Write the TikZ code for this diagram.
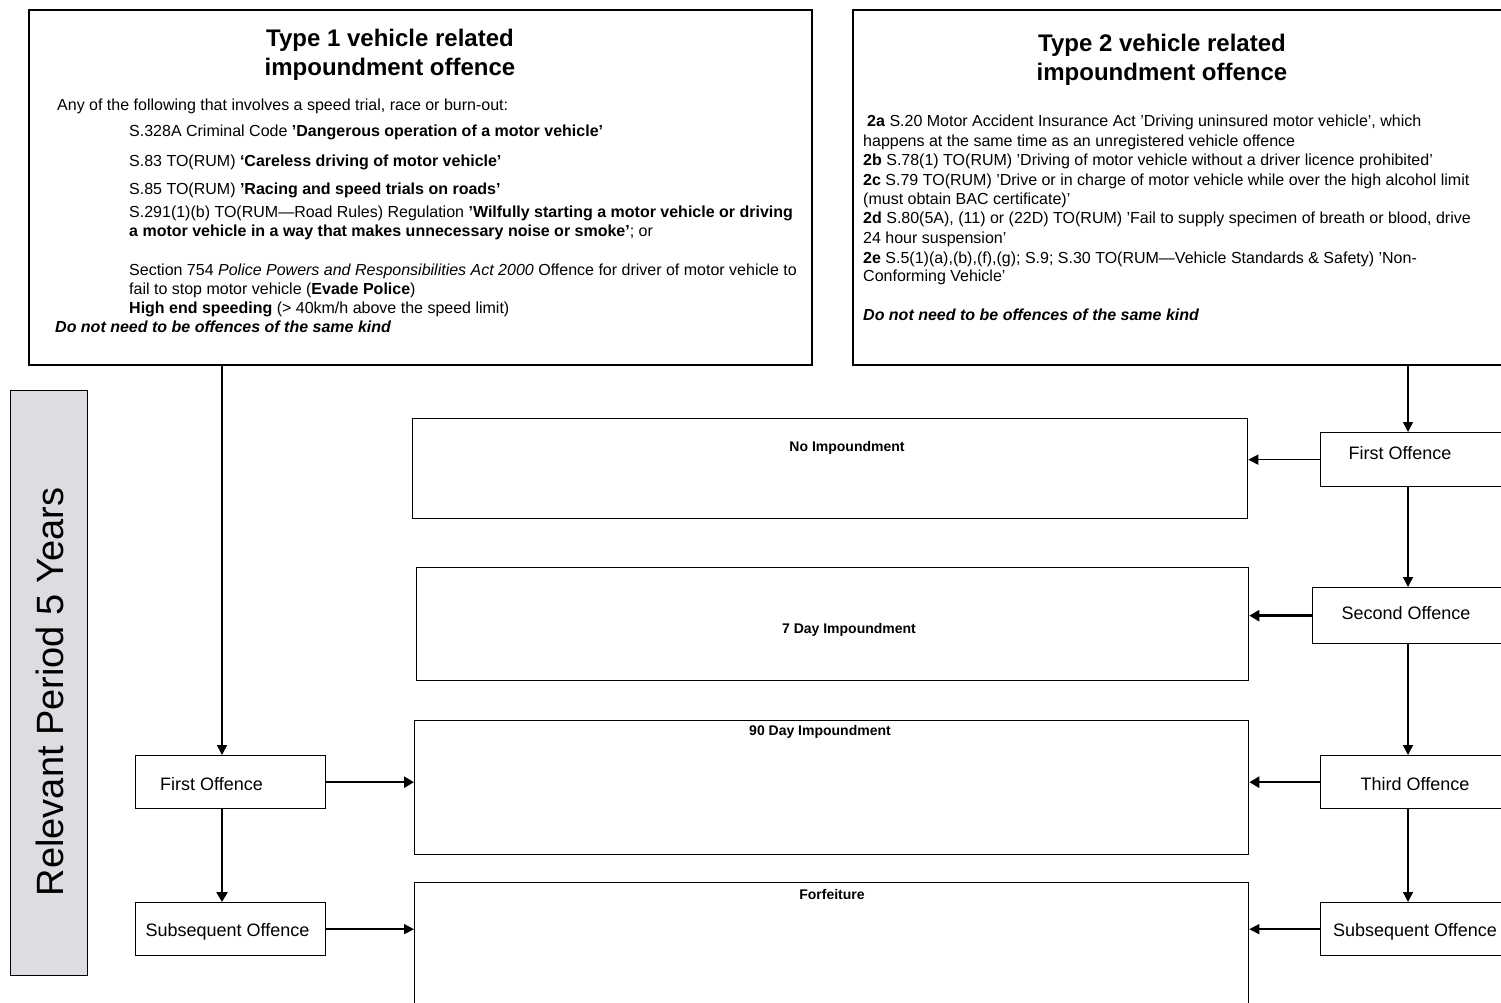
\documentclass[tikz,border=0pt]{standalone}
\usepackage{fontspec}
\setmainfont{Liberation Sans}
\usetikzlibrary{arrows.meta}
\definecolor{periodgray}{HTML}{DCDDE0}
\newcommand\bodyf{\fontsize{16}{19}\selectfont}
\begin{document}
\begin{tikzpicture}[x=1pt,y=-1pt,
  bigbox/.style={draw, line width=1.6pt, anchor=north west, inner sep=0pt},
  obox/.style={draw, line width=1.3pt, anchor=north west, inner sep=0pt},
  lbl/.style={font=\fontsize{18}{20}\selectfont, inner sep=0pt},
  imp/.style={font=\bfseries\fontsize{14}{16}\selectfont, inner sep=0pt},
  txt/.style={anchor=base west, inner sep=0pt, font=\bodyf},
  head/.style={align=center, font=\bfseries\fontsize{24}{29.5}\selectfont, inner sep=0pt},
  arr/.style={line width=1.5pt, -{Triangle[length=10pt,width=10pt]}},
  tarr/.style={line width=2.6pt, -{Triangle[length=10pt,width=11pt]}},
]
\clip (0,0) rectangle (1501,1002);
\fill[white] (0,0) rectangle (1501,1002);

% top boxes
\node[bigbox, minimum width=783pt, minimum height=355pt] (t1) at (28,9) {};
\node[bigbox, minimum width=700pt, minimum height=355pt] (t2) at (852,9) {};
\node[head] (t1h) at (390,55) {Type 1 vehicle related\\impoundment offence};
\node[head] (t2h) at (1162,60) {Type 2 vehicle related\\impoundment offence};

% type 1 text
\node[txt] (a1) at (57,110) {Any of the following that involves a speed trial, race or burn-out:};
\node[txt] (a2) at (129,136) {S.328A Criminal Code \textbf{'Dangerous operation of a motor vehicle'}};
\node[txt] (a3) at (129,166) {S.83 TO(RUM) \textbf{`Careless driving of motor vehicle'}};
\node[txt] (a4) at (129,194) {S.85 TO(RUM) \textbf{'Racing and speed trials on roads'}};
\node[txt] (a5) at (129,217) {S.291(1)(b) TO(RUM---Road Rules) Regulation \textbf{'Wilfully starting a motor vehicle or driving}};
\node[txt] (a6) at (129,236) {\textbf{a motor vehicle in a way that makes unnecessary noise or smoke'}; or};
\node[txt] (a7) at (129,275) {Section 754 \textit{Police Powers and Responsibilities Act 2000} Offence for driver of motor vehicle to};
\node[txt] (a8) at (129,294) {fail to stop motor vehicle (\textbf{Evade Police})};
\node[txt] (a9) at (129,313) {\textbf{High end speeding} ({>} 40km/h above the speed limit)};
\node[txt] (a10) at (55,332) {\textbf{\textit{Do not need to be offences of the same kind}}};

% type 2 text
\node[txt] (b1) at (867,126) {\textbf{2a} S.20 Motor Accident Insurance Act 'Driving uninsured motor vehicle', which};
\node[txt] (b2) at (863,146) {happens at the same time as an unregistered vehicle offence};
\node[txt] (b3) at (863,165) {\textbf{2b} S.78(1) TO(RUM) 'Driving of motor vehicle without a driver licence prohibited'};
\node[txt] (b4) at (863,185) {\textbf{2c} S.79 TO(RUM) 'Drive or in charge of motor vehicle while over the high alcohol limit};
\node[txt] (b5) at (863,204) {(must obtain BAC certificate)'};
\node[txt] (b6) at (863,223) {\textbf{2d} S.80(5A), (11) or (22D) TO(RUM) 'Fail to supply specimen of breath or blood, drive};
\node[txt] (b7) at (863,243) {24 hour suspension'};
\node[txt] (b8) at (863,263) {\textbf{2e} S.5(1)(a),(b),(f),(g); S.9; S.30 TO(RUM---Vehicle Standards \& Safety) 'Non-};
\node[txt] (b9) at (863,281) {Conforming Vehicle'};
\node[txt] (b10) at (863,320) {\textbf{\textit{Do not need to be offences of the same kind}}};

% period box
\node[obox, fill=periodgray, minimum width=77pt, minimum height=585pt] (per) at (10,390) {};
\node[font=\fontsize{38}{40}\selectfont, rotate=90, inner sep=0pt] (pert) at (50,692) {Relevant Period 5 Years};

% outcome boxes
\node[obox, minimum width=835pt, minimum height=100pt] (n0) at (412,418) {};
\node[obox, minimum width=832pt, minimum height=113pt] (n7) at (416,567) {};
\node[obox, minimum width=834pt, minimum height=134pt] (n90) at (414,720) {};
\node[obox, minimum width=834pt, minimum height=140pt] (nff) at (414,882) {};
\node[imp] (n0t) at (847,448) {No Impoundment};
\node[imp] (n7t) at (849,630) {7 Day Impoundment};
\node[imp] (n90t) at (820,732) {90 Day Impoundment};
\node[imp] (nfft) at (832,894) {Forfeiture};

% offence boxes
\node[obox, minimum width=190pt, minimum height=53pt] (lf) at (135,755) {};
\node[obox, minimum width=190pt, minimum height=53pt] (ls) at (135,902) {};
\node[obox, minimum width=190pt, minimum height=54pt] (rf) at (1320,432) {};
\node[obox, minimum width=198pt, minimum height=56pt] (rs2) at (1312,587) {};
\node[obox, minimum width=190pt, minimum height=53pt] (r3) at (1320,755) {};
\node[obox, minimum width=190pt, minimum height=53pt] (rsub) at (1320,902) {};
\node[lbl] (lft) at (211.5,784) {First Offence};
\node[lbl] (lst) at (227.5,932) {Subsequent Offence};
\node[lbl] (rft) at (1400,453) {First Offence};
\node[lbl] (rs2t) at (1406,613) {Second Offence};
\node[lbl] (r3t) at (1415,784) {Third Offence};
\node[lbl] (rsubt) at (1415,932) {Subsequent Offence};

% connectors
\coordinate (lx) at (222,0);
\coordinate (rx) at (1408,0);
\draw[arr] (lx |- t1.south) -- (lx |- lf.north);
\draw[tarr] (lf.east) -- (lf.east -| n90.west);
\draw[tarr] (lx |- lf.south) -- (lx |- ls.north);
\draw[arr] (ls.east) -- (ls.east -| nff.west);
\draw[arr] (rx |- t2.south) -- (rx |- rf.north);
\draw[arr] (rf.west) -- (rf.west -| n0.east);
\draw[tarr] (rs2.west) -- (rs2.west -| n7.east);
\draw[tarr] (r3.west) -- (r3.west -| n90.east);
\draw[arr] (rsub.west) -- (rsub.west -| nff.east);
\draw[arr] (rx |- rf.south) -- (rx |- rs2.north);
\draw[arr] (rx |- rs2.south) -- (rx |- r3.north);
\draw[arr] (rx |- r3.south) -- (rx |- rsub.north);
\end{tikzpicture}
\end{document}
